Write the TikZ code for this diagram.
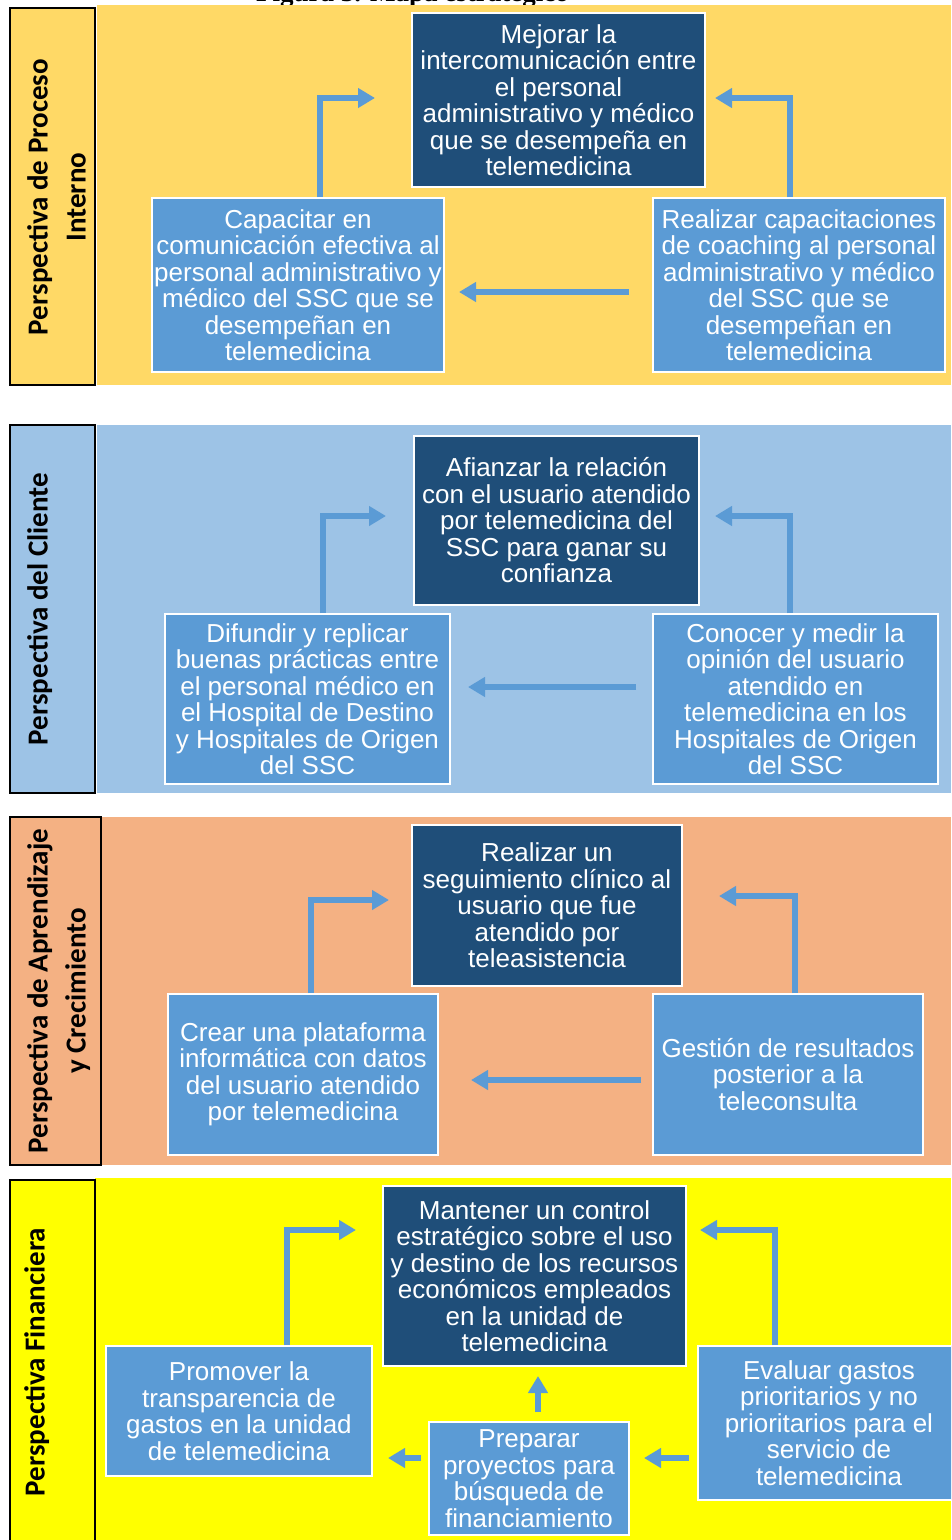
\documentclass[tikz,border=0pt]{standalone}
\usepackage{fontspec}
\setmainfont{Liberation Sans}
\newfontfamily\labfont{Carlito}
\newfontfamily\titlefont{Liberation Serif}
\usetikzlibrary{arrows.meta, positioning}

\definecolor{bandgold}{RGB}{255,217,102}
\definecolor{bandsky}{RGB}{157,195,230}
\definecolor{bandpeach}{RGB}{244,177,131}
\definecolor{bandlemon}{RGB}{255,255,0}
\definecolor{goalblue}{RGB}{31,78,121}
\definecolor{taskblue}{RGB}{91,155,213}

\begin{document}
\begin{tikzpicture}[
  x=1pt, y=-1pt,
  persp/.style={
    draw=black,
    line width=1.5pt
  },
  note/.style={
    rotate=90,
    anchor=north,
    inner sep=0pt,
    align=center,
    font=\labfont\bfseries\fontsize{29}{38}\selectfont
  },
  goal/.style={
    rectangle,
    draw=white,
    line width=2pt,
    fill=goalblue,
    text=white,
    align=center,
    inner sep=2pt,
    font=\fontsize{26}{26.5}\selectfont
  },
  task/.style={
    goal,
    fill=taskblue
  },
  flow/.style={draw=taskblue, line width=6.5pt, -{Triangle[width=19pt, length=17pt]}}
]

\useasboundingbox (0,0) rectangle (951,1540);
\clip (0,0) rectangle (951,1540);

\node[anchor=base west, inner sep=0pt, font=\titlefont\bfseries\fontsize{27}{30}\selectfont] (titulo) at (256,1) {Figura 3. Mapa estratégico};

% ============================================================
% Perspectiva de Proceso Interno
% ============================================================

\fill[bandgold] (97,5) rectangle (951,385);
\draw[persp, fill=bandgold] (10,8) rectangle (95,385);
\node[note] (lproceso) at (27,197) {Perspectiva de Proceso\\Interno};

\node[goal, minimum width=293pt, minimum height=174pt] (mejorar) at (558.5,100) {
Mejorar la\\intercomunicación entre\\el personal\\administrativo y médico\\que se desempeña en\\telemedicina
};
\node[task, minimum width=292pt, minimum height=174pt] (capacitar) at (298,285) {
Capacitar en\\comunicación efectiva al\\personal administrativo y\\médico del SSC que se\\desempeñan en\\telemedicina
};
\node[task, minimum width=292pt, minimum height=174pt] (coaching) at (799,285) {
Realizar capacitaciones\\de coaching al personal\\administrativo y médico\\del SSC que se\\desempeñan en\\telemedicina
};

\draw[flow, shorten >=36pt] ([xshift=22pt]capacitar.north) |- ([yshift=2pt]mejorar.west);
\draw[flow, shorten >=9pt] ([xshift=-9pt]coaching.north) |- ([yshift=2pt]mejorar.east);
\draw[flow, shorten <=23pt, shorten >=14pt] ([yshift=-7pt]coaching.west) -- ([yshift=-7pt]capacitar.east);

% ============================================================
% Perspectiva del Cliente
% ============================================================

\fill[bandsky] (97,425) rectangle (951,793);
\draw[persp, fill=bandsky] (10,425) rectangle (95,793);
\node[note] (lcliente) at (27,609) {Perspectiva del Cliente};

\node[goal, minimum width=285pt, minimum height=169pt] (afianzar) at (556.5,520.5) {
Afianzar la relación\\con el usuario atendido\\por telemedicina del\\SSC para ganar su\\confianza
};
\node[task, minimum width=285pt, minimum height=170pt] (difundir) at (307.5,699) {
Difundir y replicar\\buenas prácticas entre\\el personal médico en\\el Hospital de Destino\\y Hospitales de Origen\\del SSC
};
\node[task, minimum width=285pt, minimum height=170pt] (conocer) at (795.5,699) {
Conocer y medir la\\opinión del usuario\\atendido en\\telemedicina en los\\Hospitales de Origen\\del SSC
};

\draw[flow, shorten >=27pt] ([xshift=15.5pt]difundir.north) |- ([yshift=4.5pt]afianzar.west);
\draw[flow, shorten >=15pt] ([xshift=-5.5pt]conocer.north) |- ([yshift=4.5pt]afianzar.east);
\draw[flow, shorten <=16pt, shorten >=17pt] ([yshift=12pt]conocer.west) -- ([yshift=12pt]difundir.east);

% ============================================================
% Perspectiva de Aprendizaje y Crecimiento
% ============================================================

\fill[bandpeach] (101,817) rectangle (951,1165);
\draw[persp, fill=bandpeach] (10,817) rectangle (101,1165);
\node[note] (laprendizaje) at (27,991) {Perspectiva de Aprendizaje\\y Crecimiento};

\node[goal, minimum width=270pt, minimum height=161pt] (seguimiento) at (547,905.5) {
Realizar un\\seguimiento clínico al\\usuario que fue\\atendido por\\teleasistencia
};
\node[task, minimum width=270pt, minimum height=161pt] (plataforma) at (303,1074.5) {
Crear una plataforma\\informática con datos\\del usuario atendido\\por telemedicina
};
\node[task, minimum width=270pt, minimum height=161pt] (gestion) at (788,1074.5) {
Gestión de resultados\\posterior a la\\teleconsulta
};

\draw[flow, shorten >=22pt] ([xshift=8pt]plataforma.north) |- ([yshift=5.5pt]seguimiento.west);
\draw[flow, shorten >=36pt] ([xshift=7pt]gestion.north) |- ([yshift=9.5pt]seguimiento.east);
\draw[flow, shorten <=11pt, shorten >=32pt] ([yshift=-5.5pt]gestion.west) -- ([yshift=-5.5pt]plataforma.east);

% ============================================================
% Perspectiva Financiera
% ============================================================

\fill[bandlemon] (95,1178) rectangle (951,1540);
\draw[persp, fill=bandlemon] (10,1180) rectangle (95,1545);
\node[note] (lfinanciera) at (24,1362) {Perspectiva Financiera};

\node[goal, minimum width=303pt, minimum height=180pt] (control) at (534.5,1276) {
Mantener un control\\estratégico sobre el uso\\y destino de los recursos\\económicos empleados\\en la unidad de\\telemedicina
};
\node[task, minimum width=266pt, minimum height=130pt] (transparencia) at (239,1411) {
Promover la\\transparencia de\\gastos en la unidad\\de telemedicina
};
\node[task, minimum width=200pt, minimum height=113pt] (proyectos) at (529,1478.5) {
Preparar\\proyectos para\\búsqueda de\\financiamiento
};
\node[task, minimum width=262pt, minimum height=154pt] (gastos) at (829,1423) {
Evaluar gastos\\prioritarios y no\\prioritarios para el\\servicio de\\telemedicina
};

\draw[flow, shorten >=26pt] ([xshift=48pt]transparencia.north) |- ([yshift=46pt]control.west);
\draw[flow, shorten >=13pt] ([xshift=-54pt]gastos.north) |- ([yshift=46pt]control.east);
\draw[flow, shorten <=9pt, shorten >=9pt] ([xshift=9pt]proyectos.north) -- ([xshift=9pt]proyectos.north |- control.south);
\draw[flow, shorten <=7pt, shorten >=15pt] ([yshift=20.5pt]proyectos.west) -- ([yshift=20.5pt]proyectos.west -| transparencia.east);
\draw[flow, shorten <=8pt, shorten >=14pt] ([yshift=-35pt]gastos.west) -- ([yshift=-35pt]gastos.west -| proyectos.east);

\end{tikzpicture}
\end{document}
